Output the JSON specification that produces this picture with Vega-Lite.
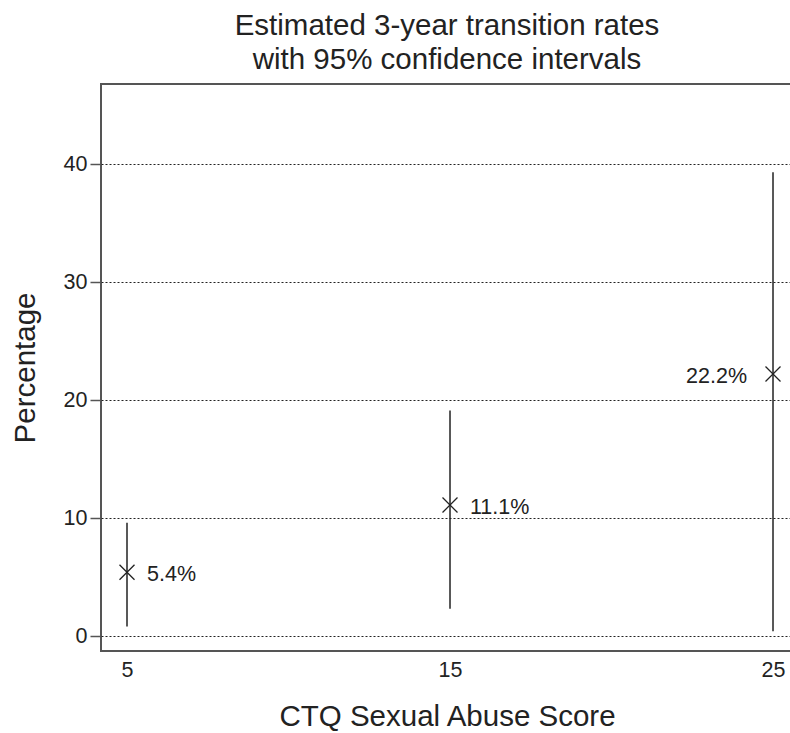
{
  "$schema": "https://vega.github.io/schema/vega-lite/v6.json",
  "autosize": "none",
  "padding": {"left": 101, "top": 84, "right": 0, "bottom": 82},
  "width": 692,
  "height": 567,
  "background": "white",
  "title": {
    "text": ["Estimated 3-year transition rates", "with 95% confidence intervals"],
    "font": "Liberation Sans",
    "fontSize": 29.5,
    "fontWeight": "normal",
    "color": "#222",
    "anchor": "middle",
    "lineHeight": 34,
    "offset": 9
  },
  "config": {
    "view": {"stroke": "#555", "strokeWidth": 2},
    "axis": {
      "labelFont": "Liberation Sans",
      "labelFontSize": 21.5,
      "labelColor": "#222",
      "titleFont": "Liberation Sans",
      "titleFontSize": 29.5,
      "titleFontWeight": "normal",
      "titleColor": "#222",
      "domain": false
    }
  },
  "data": {
    "values": [
      {"score": 5, "rate": 5.4, "lo": 0.8, "hi": 9.6, "label": "5.4%", "side": "right"},
      {"score": 15, "rate": 11.1, "lo": 2.3, "hi": 19.1, "label": "11.1%", "side": "right"},
      {"score": 25, "rate": 22.2, "lo": 0.4, "hi": 39.3, "label": "22.2%", "side": "left"}
    ]
  },
  "layer": [
    {
      "mark": {"type": "rule", "color": "#222", "strokeWidth": 1.5},
      "encoding": {
        "x": {
          "field": "score", "type": "quantitative",
          "scale": {"domain": [4.195, 25.619], "nice": false, "zero": false},
          "axis": {"values": [5, 15, 25], "ticks": false, "grid": false, "labelPadding": 8, "title": "CTQ Sexual Abuse Score", "titlePadding": 22}
        },
        "y": {
          "field": "lo", "type": "quantitative",
          "scale": {"domain": [-1.271, 46.78], "nice": false, "zero": false},
          "axis": {
            "values": [0, 10, 20, 30, 40], "title": "Percentage",
            "tickSize": 11, "tickColor": "#555", "tickWidth": 1.5, "labelPadding": 3,
            "grid": true, "gridColor": "#222", "gridDash": [2, 2], "gridWidth": 1,
            "titlePadding": 23
          }
        },
        "y2": {"field": "hi"}
      }
    },
    {
      "mark": {"type": "point", "shape": "M-1,-1L1,1M-1,1L1,-1", "filled": false, "size": 225, "stroke": "#222", "strokeWidth": 1.3, "opacity": 1},
      "encoding": {
        "x": {"field": "score", "type": "quantitative"},
        "y": {"field": "rate", "type": "quantitative"}
      }
    },
    {
      "transform": [{"filter": "datum.side == 'right'"}],
      "mark": {"type": "text", "align": "left", "baseline": "middle", "dx": 20, "dy": 3, "font": "Liberation Sans", "fontSize": 21.5, "color": "#222"},
      "encoding": {
        "x": {"field": "score", "type": "quantitative"},
        "y": {"field": "rate", "type": "quantitative"},
        "text": {"field": "label"}
      }
    },
    {
      "transform": [{"filter": "datum.side == 'left'"}],
      "mark": {"type": "text", "align": "right", "baseline": "middle", "dx": -26, "dy": 3, "font": "Liberation Sans", "fontSize": 21.5, "color": "#222"},
      "encoding": {
        "x": {"field": "score", "type": "quantitative"},
        "y": {"field": "rate", "type": "quantitative"},
        "text": {"field": "label"}
      }
    }
  ]
}
